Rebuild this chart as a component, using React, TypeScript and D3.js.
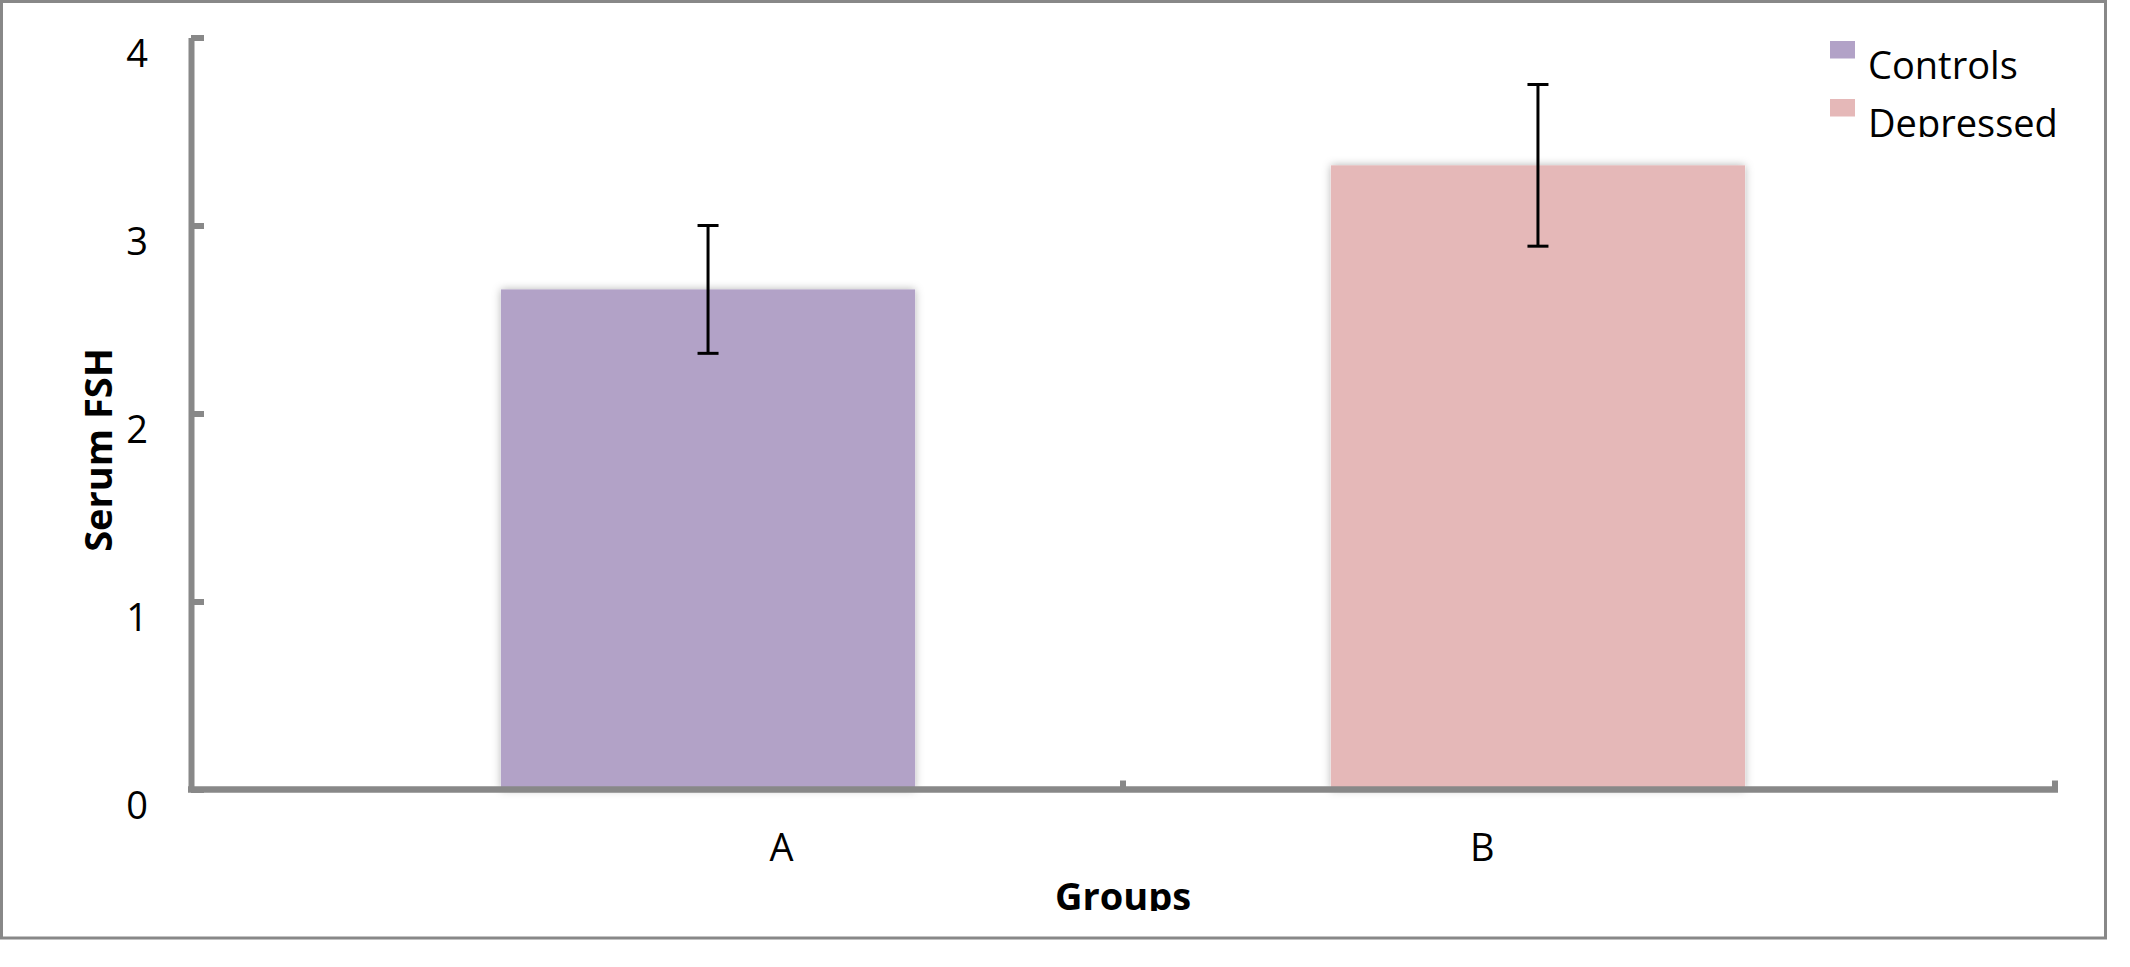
import { useEffect, useRef } from "react";
import * as d3 from "d3";

// chart values
const categories = ["A", "B"];
const seriesNames = ["Controls", "Depressed"];
const means = [2.66, 3.32];
const errors = [0.34, 0.43];
const yTicks = [0, 1, 2, 3, 4];
const seriesColors = ["#B2A2C7", "#E5B8B8"];

const W = 2130;
const H = 967;
const plot = { left: 191, right: 2055, top: 37.5, bottom: 789.5 };
const FONT = "'Open Sans', Lato, sans-serif";
const AXIS = "#888888";

export default function App() {
  const ref = useRef<SVGSVGElement>(null);

  useEffect(() => {
    const svg = d3.select(ref.current);
    svg.selectAll("*").remove();

    const y = d3.scaleLinear().domain([0, 4]).range([plot.bottom, plot.top]);
    // category bands (for the boundary ticks) and label points
    const xCat = d3.scaleBand().domain(categories).range([plot.left, plot.right]);
    const xLabel = d3
      .scalePoint()
      .domain(categories)
      .range([plot.left + 9, plot.right + 9])
      .padding(0.83);
    // series bars
    const xBar = d3
      .scaleBand()
      .domain(seriesNames)
      .range([plot.left, plot.right])
      .paddingInner(0.501)
      .paddingOuter(0.3735);

    const defs = svg.append("defs");
    const f = defs
      .append("filter")
      .attr("id", "barShadow")
      .attr("x", "-10%")
      .attr("y", "-10%")
      .attr("width", "120%")
      .attr("height", "120%");
    f.append("feDropShadow")
      .attr("dx", 0)
      .attr("dy", 0)
      .attr("stdDeviation", 4)
      .attr("flood-color", "#000")
      .attr("flood-opacity", 0.3);

    const clip = (id: string, h: number) =>
      defs.append("clipPath").attr("id", id).append("rect").attr("x", 0).attr("y", 0).attr("width", W).attr("height", h);

    // outer frame
    svg
      .append("rect")
      .attr("x", 1.5)
      .attr("y", 1.5)
      .attr("width", 2104)
      .attr("height", 936.5)
      .attr("fill", "#fff")
      .attr("stroke", AXIS)
      .attr("stroke-width", 3);

    // bars
    const rows = seriesNames.map((s, i) => ({ s, v: means[i], e: errors[i], c: seriesColors[i] }));
    svg
      .append("g")
      .selectAll("rect")
      .data(rows)
      .join("rect")
      .attr("x", (d) => xBar(d.s)!)
      .attr("y", (d) => y(d.v))
      .attr("width", xBar.bandwidth())
      .attr("height", (d) => y(0) - y(d.v))
      .attr("fill", (d) => d.c)
      .attr("filter", "url(#barShadow)");

    // y axis
    const yAxis = svg
      .append("g")
      .attr("transform", "translate(" + plot.left + ",0)")
      .call(
        d3
          .axisLeft(y)
          .tickValues(yTicks)
          .tickSize(-13)
          .tickSizeOuter(0)
          .tickPadding(43)
          .tickFormat(d3.format("d"))
      );
    yAxis.select(".domain").attr("stroke", AXIS).attr("stroke-width", 6);
    yAxis.selectAll(".tick line").attr("stroke", AXIS).attr("stroke-width", 6);
    yAxis
      .selectAll(".tick text")
      .attr("fill", "#000")
      .attr("dy", 29)
      .style("font-family", FONT)
      .style("font-size", "38px");

    // x axis
    const xAxis = svg.append("g");
    xAxis
      .append("line")
      .attr("x1", plot.left - 3)
      .attr("x2", plot.right + 3)
      .attr("y1", y(0))
      .attr("y2", y(0))
      .attr("stroke", AXIS)
      .attr("stroke-width", 6.5);
    const bounds = [xCat("B")!, xCat("B")! + xCat.bandwidth()];
    xAxis
      .selectAll("line.tick")
      .data(bounds)
      .join("line")
      .attr("class", "tick")
      .attr("x1", (d) => d)
      .attr("x2", (d) => d)
      .attr("y1", y(0))
      .attr("y2", y(0) - 9)
      .attr("stroke", AXIS)
      .attr("stroke-width", 6);
    xAxis
      .selectAll("text")
      .data(categories)
      .join("text")
      .attr("x", (d) => xLabel(d)!)
      .attr("y", 861)
      .attr("text-anchor", "middle")
      .style("font-family", FONT)
      .style("font-size", "38px")
      .text((d) => d);

    // error bars
    const eb = svg.append("g").attr("stroke", "#000").attr("stroke-width", 3);
    rows.forEach((d) => {
      const cx = xBar(d.s)! + xBar.bandwidth() / 2;
      eb.append("line").attr("x1", cx).attr("x2", cx).attr("y1", y(d.v + d.e)).attr("y2", y(d.v - d.e));
      [d.v + d.e, d.v - d.e].forEach((v) =>
        eb.append("line").attr("x1", cx - 10.5).attr("x2", cx + 10.5).attr("y1", y(v)).attr("y2", y(v))
      );
    });

    // axis titles
    clip("clipGroups", 911);
    svg
      .append("text")
      .attr("x", (plot.left + plot.right) / 2)
      .attr("y", 910)
      .attr("text-anchor", "middle")
      .attr("clip-path", "url(#clipGroups)")
      .style("font-family", FONT)
      .style("font-weight", "bold")
      .style("font-size", "38px")
      .text("Groups");

    svg
      .append("text")
      .attr("transform", "translate(112,450) rotate(-90)")
      .attr("text-anchor", "middle")
      .style("font-family", FONT)
      .style("font-weight", "bold")
      .style("font-size", "38px")
      .text("Serum FSH");

    // legend
    const legend = svg.append("g");
    seriesNames.forEach((s, i) => {
      const top = 41 + i * 58;
      legend
        .append("rect")
        .attr("x", 1830)
        .attr("y", top)
        .attr("width", 25)
        .attr("height", 17.5)
        .attr("fill", seriesColors[i]);
      clip("clipLegend" + i, top + 38);
      legend
        .append("text")
        .attr("x", 1868)
        .attr("y", top + 38)
        .attr("clip-path", "url(#clipLegend" + i + ")")
        .style("font-family", FONT)
        .style("font-size", "38px")
        .text(s);
    });
  }, []);

  return (
    <svg
      ref={ref}
      width={W}
      height={H}
      style={{ position: "absolute", left: 0, top: 0, background: "#fff" }}
    ></svg>
  );
}
